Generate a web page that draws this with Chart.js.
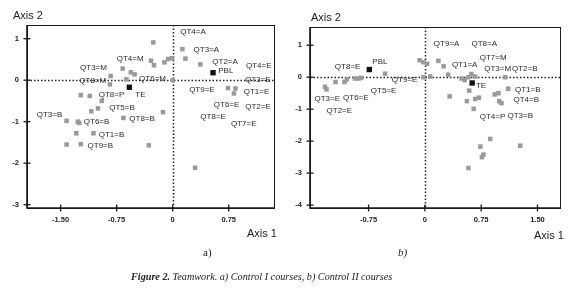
<!DOCTYPE html>
<html>
<head>
<meta charset="utf-8">
<script src="https://cdn.jsdelivr.net/npm/chart.js@4"></script>
<style>
html,body{margin:0;padding:0;background:#fff;}
#wrap{position:relative;width:580px;height:296px;overflow:hidden;background:#fff;}
canvas{position:absolute;top:0;}
.t{position:absolute;white-space:nowrap;color:#222;line-height:12px;}
.ax{font-family:"Liberation Sans",Arial,sans-serif;font-size:11px;}
.sf{font-family:"Liberation Serif","Times New Roman",serif;font-size:11px;}
</style>
</head>
<body>
<div id="wrap">
<canvas id="ca" width="285" height="240" style="left:0;width:285px;height:240px"></canvas>
<canvas id="cb" width="290" height="240" style="left:285px;width:290px;height:240px"></canvas>
<div class="t ax" style="left:13px;top:9px">Axis 2</div>
<div class="t ax" style="left:311px;top:11px">Axis 2</div>
<div class="t ax" style="left:247px;top:227px">Axis 1</div>
<div class="t ax" style="left:534px;top:229px">Axis 1</div>
<div class="t sf" style="left:203px;top:246px">a)</div>
<div class="t sf" style="left:398px;top:246px;font-style:italic">b)</div>
<div class="t sf" style="left:131px;top:271px;font-style:italic;font-size:10.2px"><b>Figure 2.</b> Teamwork. a) Control I courses, b) Control II courses</div>
</div>
<script>
// ---------- Chart a data (Control I) ----------
const grayA_x = [-0.26,-0.29,-0.25,-0.11,-0.06,-0.01,-0.67,-0.56,-0.51,-0.83,-0.84,-0.62,0.00,-1.23,-1.11,-0.95,-1.00,-1.09,-0.66,-0.13,-1.42,-1.27,-1.25,-1.29,-1.06,-1.42,-1.23,-0.32,0.13,0.17,0.37,0.74,0.84,0.82,0.30];
const grayA_y = [0.91,0.47,0.36,0.43,0.51,0.53,0.28,0.19,0.14,0.10,-0.10,0.02,0.00,-0.36,-0.38,-0.50,-0.68,-0.75,-0.91,-0.77,-0.98,-1.00,-1.03,-1.28,-1.28,-1.55,-1.54,-1.57,0.75,0.52,0.38,-0.19,-0.20,-0.32,-2.11];
const blackA_x = [0.54,-0.58];
const blackA_y = [0.18,-0.17];
const labelsA_text = ["QT4=A","QT3=A","QT2=A","QT4=E","PBL","QT3=E","QT9=E","QT1=E","QT6=E","QT2=E","QT8=E","QT7=E","QT4=M","QT3=M","QT8=M","QT6=M","QT8=P","TE","QT5=B","QT3=B","QT6=B","QT8=B","QT1=B","QT9=B"];
const labelsA_x = [0.10,0.28,0.53,0.98,0.61,0.97,0.22,0.95,0.55,0.97,0.37,0.78,-0.75,-1.24,-1.25,-0.45,-0.99,-0.50,-0.85,-1.82,-1.19,-0.58,-0.99,-1.14];
const labelsA_y = [1.16,0.74,0.44,0.34,0.22,0.00,-0.24,-0.28,-0.60,-0.63,-0.88,-1.06,0.52,0.29,-0.02,0.04,-0.34,-0.36,-0.66,-0.84,-1.00,-0.92,-1.31,-1.58];
const xTicksA = [-1.5,-0.75,0,0.75];
const xTickLabelsA = ["-1.50","-0.75","0","0.75"];
const yTicksA = [1,0,-1,-2,-3];
const yTickLabelsA = ["1","0","-1","-2","-3"];

// ---------- Chart b data (Control II) ----------
const grayB_x = [-1.33,-1.31,-1.19,-1.07,-1.04,-0.93,-0.88,-0.85,-0.53,-0.07,-0.02,-0.02,0.03,0.18,0.25,0.07,0.31,0.49,0.53,0.58,0.62,0.67,0.59,0.33,0.56,0.67,0.72,0.65,0.93,0.98,0.99,1.02,1.11,1.07,0.87,0.74,1.27,0.78,0.76,0.58];
const grayB_y = [-0.30,-0.38,-0.15,-0.15,-0.07,-0.04,-0.04,-0.02,0.11,0.53,0.47,0.00,0.42,0.51,0.34,0.02,0.08,-0.04,-0.09,0.00,0.10,0.02,-0.42,-0.60,-0.75,-0.68,-0.64,-0.99,-0.54,-0.50,-0.75,-0.81,-0.36,0.00,-1.93,-2.17,-2.14,-2.42,-2.50,-2.84];
const blackB_x = [-0.74,0.63];
const blackB_y = [0.24,-0.18];
const labelsB_text = ["QT9=A","QT8=A","QT7=M","QT1=A","QT3=M","QT2=B","QT8=E","PBL","QT9=E","TE","QT3=E","QT6=E","QT5=E","QT2=E","QT1=B","QT4=B","QT4=P","QT3=B"];
const labelsB_x = [0.12,0.62,0.73,0.36,0.79,1.16,-1.20,-0.70,-0.44,0.68,-1.47,-1.09,-0.72,-1.31,1.20,1.18,0.73,1.10];
const labelsB_y = [1.03,1.03,0.62,0.38,0.27,0.27,0.32,0.48,-0.08,-0.26,-0.67,-0.64,-0.43,-1.04,-0.39,-0.71,-1.24,-1.20];
const xTicksB = [-0.75,0,0.75,1.5];
const xTickLabelsB = ["-0.75","0","0.75","1.50"];
const yTicksB = [1,0,-1,-2,-3,-4];
const yTickLabelsB = ["1","0","-1","-2","-3","-4"];

function pts(xs, ys){ return xs.map((x,i)=>({x:x,y:ys[i]})); }

const decor = {
  id:'decor',
  beforeDatasetsDraw(chart){
    const ctx = chart.ctx, a = chart.chartArea, sx = chart.scales.x, sy = chart.scales.y;
    ctx.save();
    ctx.strokeStyle = '#222';
    ctx.lineWidth = 1.5;
    ctx.setLineDash([1.5,2]);
    const x0 = Math.round(sx.getPixelForValue(0))+0.5;
    const y0 = Math.round(sy.getPixelForValue(0))+0.5;
    ctx.beginPath(); ctx.moveTo(x0,a.top); ctx.lineTo(x0,a.bottom); ctx.stroke();
    ctx.beginPath(); ctx.moveTo(a.left,y0); ctx.lineTo(a.right,y0); ctx.stroke();
    ctx.restore();
  },
  afterDraw(chart){
    const ctx = chart.ctx, a = chart.chartArea, sx = chart.scales.x, sy = chart.scales.y;
    const cfg = chart.options.plugins.decor;
    ctx.save();
    ctx.strokeStyle = '#1a1a1a';
    ctx.setLineDash([]);
    ctx.lineWidth = 1;
    ctx.strokeRect(Math.round(a.left)+0.5, Math.round(a.top)+0.5, Math.round(a.right-a.left), Math.round(a.bottom-a.top));
    ctx.lineWidth = 1.6;
    ctx.beginPath(); ctx.moveTo(a.left, a.top); ctx.lineTo(a.left, a.bottom); ctx.lineTo(a.right, a.bottom); ctx.stroke();
    ctx.lineWidth = 1.3;
    sx.ticks.forEach(t=>{ const p = sx.getPixelForValue(t.value); ctx.beginPath(); ctx.moveTo(p, a.bottom-3.5); ctx.lineTo(p, a.bottom+3.5); ctx.stroke(); });
    sy.ticks.forEach(t=>{ const p = sy.getPixelForValue(t.value); ctx.beginPath(); ctx.moveTo(a.left-3.5, p); ctx.lineTo(a.left+3.5, p); ctx.stroke(); });
    ctx.fillStyle = '#2a2a2a';
    ctx.font = '8px "Liberation Sans", Arial, sans-serif';
    ctx.textAlign = 'left';
    ctx.textBaseline = 'middle';
    cfg.text.forEach((s,i)=>{ ctx.fillText(s, sx.getPixelForValue(cfg.lx[i]), sy.getPixelForValue(cfg.ly[i])); });
    ctx.restore();
  }
};

function makeChart(id, gx, gy, bx, by, lt, lx, ly, xmin, xmax, ymin, ymax, xt, xtl, yt, ytl, pad, yw){
  const tickFont = {family:'"Liberation Sans", Arial, sans-serif', size:7.5, weight:'bold'};
  return new Chart(document.getElementById(id), {
    type:'scatter',
    data:{datasets:[
      {data:pts(gx,gy), pointStyle:'rect', pointRadius:3.2, backgroundColor:'#9a9a9a', borderWidth:0},
      {data:pts(bx,by), pointStyle:'rect', pointRadius:3.8, backgroundColor:'#111', borderWidth:0}
    ]},
    options:{
      responsive:false, animation:false, devicePixelRatio:1,
      layout:{padding:pad},
      plugins:{legend:{display:false}, tooltip:{enabled:false}, decor:{text:lt, lx:lx, ly:ly}},
      scales:{
        x:{type:'linear', min:xmin, max:xmax,
           afterFit:s=>{s.height=32;},
           afterBuildTicks:s=>{s.ticks = xt.map(v=>({value:v}));},
           ticks:{callback:(v,i)=>xtl[i], font:tickFont, color:'#222', padding:7, maxRotation:0, autoSkip:false},
           grid:{display:false, drawTicks:false}, border:{display:false}},
        y:{type:'linear', min:ymin, max:ymax,
           afterFit:s=>{s.width=yw;},
           afterBuildTicks:s=>{s.ticks = yt.map(v=>({value:v}));},
           ticks:{callback:(v,i)=>ytl[i], font:tickFont, color:'#222', padding:8, autoSkip:false},
           grid:{display:false, drawTicks:false}, border:{display:false}}
      }
    },
    plugins:[decor]
  });
}

makeChart('ca', grayA_x, grayA_y, blackA_x, blackA_y, labelsA_text, labelsA_x, labelsA_y,
  -1.95, 1.356, -3.08, 1.33, xTicksA, xTickLabelsA, yTicksA, yTickLabelsA,
  {top:25, right:11, left:0, bottom:0}, 27);
makeChart('cb', grayB_x, grayB_y, blackB_x, blackB_y, labelsB_text, labelsB_x, labelsB_y,
  -1.53, 1.8, -4.09, 1.57, xTicksB, xTickLabelsB, yTicksB, yTickLabelsB,
  {top:27, right:15, left:0, bottom:0}, 25);
</script>
</body>
</html>
